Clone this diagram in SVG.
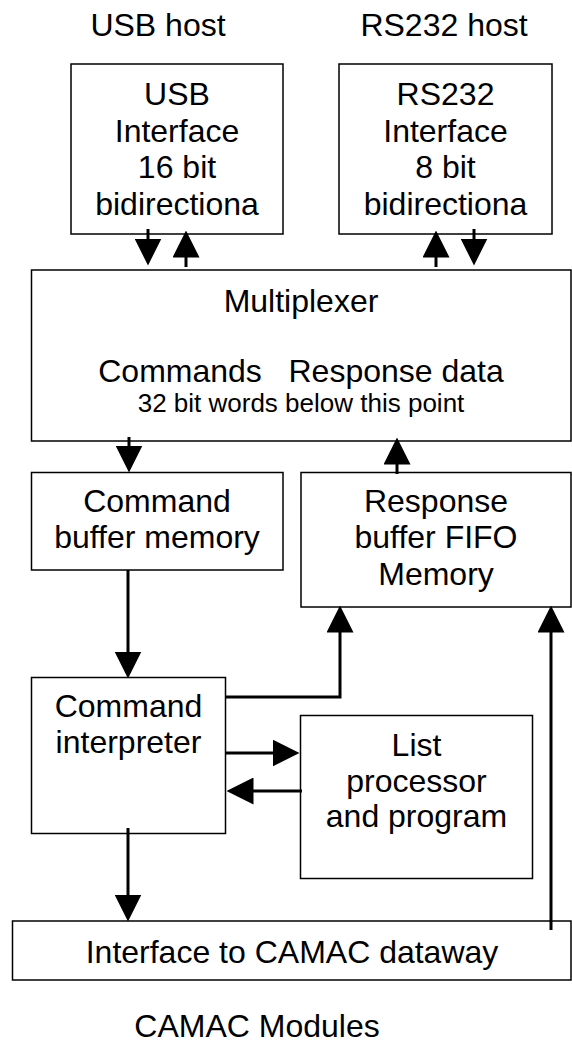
<svg xmlns="http://www.w3.org/2000/svg" width="572" height="1043" viewBox="0 0 572 1043">
<style>
  .box { fill: #ffffff; stroke: #000000; stroke-width: 1.5; }
  .t { font-family: "Liberation Sans", Arial, sans-serif; font-size: 32px; fill: #000000; text-anchor: middle; }
  .s { font-size: 26px; }
  .c { fill: none; stroke: #000000; stroke-width: 3; }
  .pre { white-space: pre; }
</style>
<defs>
  <marker id="ah" viewBox="0 0 27 27" markerWidth="27" markerHeight="27" markerUnits="userSpaceOnUse" refX="0.5" refY="13.5" orient="auto">
    <path d="M0,0 L27,13.5 L0,27 z" fill="#000000"/>
  </marker>
</defs>
<rect width="572" height="1043" fill="#ffffff"/>

<g id="labels">
  <text class="t" x="158" y="36">USB host</text>
  <text class="t" x="444" y="36">RS232 host</text>
  <text class="t" x="257" y="1037">CAMAC Modules</text>
</g>

<g id="usb">
  <rect class="box" x="71" y="64" width="212" height="170"/>
  <text class="t" x="177" y="105">USB</text>
  <text class="t" x="177" y="141.7">Interface</text>
  <text class="t" x="177" y="178.3">16 bit</text>
  <text class="t" x="177" y="215">bidirectiona</text>
</g>

<g id="rs232">
  <rect class="box" x="339" y="64" width="213" height="170"/>
  <text class="t" x="445.5" y="105">RS232</text>
  <text class="t" x="445.5" y="141.7">Interface</text>
  <text class="t" x="445.5" y="178.3">8 bit</text>
  <text class="t" x="445.5" y="215">bidirectiona</text>
</g>

<g id="multiplexer">
  <rect class="box" x="31.5" y="270" width="539.5" height="171"/>
  <text class="t" x="301" y="312">Multiplexer</text>
  <text class="t pre" x="301" y="382" xml:space="preserve">Commands   Response data</text>
  <text class="t s" x="301" y="411.7">32 bit words below this point</text>
</g>

<g id="command-buffer">
  <rect class="box" x="31.5" y="472.5" width="251.5" height="97.5"/>
  <text class="t" x="157" y="511.7">Command</text>
  <text class="t" x="157" y="548.3">buffer memory</text>
</g>

<g id="response-buffer">
  <rect class="box" x="301" y="472.5" width="270" height="134.5"/>
  <text class="t" x="436" y="511.7">Response</text>
  <text class="t" x="436" y="548.3">buffer FIFO</text>
  <text class="t" x="436" y="585">Memory</text>
</g>

<g id="command-interpreter">
  <rect class="box" x="31.5" y="677.5" width="194" height="156"/>
  <text class="t" x="128.5" y="717.3">Command</text>
  <text class="t" x="128.5" y="753.3">interpreter</text>
</g>

<g id="list-processor">
  <rect class="box" x="300.5" y="715.5" width="232" height="163"/>
  <text class="t" x="416.5" y="755.7">List</text>
  <text class="t" x="416.5" y="791.7">processor</text>
  <text class="t" x="416.5" y="827">and program</text>
</g>

<g id="camac-interface">
  <rect class="box" x="12.5" y="921" width="558.5" height="59"/>
  <text class="t" x="292" y="962.7">Interface to CAMAC dataway</text>
</g>

<g id="connectors">
  <line class="c" x1="148" y1="229" x2="148" y2="239" marker-end="url(#ah)"/>
  <line class="c" x1="186" y1="267" x2="186" y2="257" marker-end="url(#ah)"/>
  <line class="c" x1="436" y1="267" x2="436" y2="257" marker-end="url(#ah)"/>
  <line class="c" x1="474" y1="229" x2="474" y2="239" marker-end="url(#ah)"/>
  <line class="c" x1="129" y1="437" x2="129" y2="446" marker-end="url(#ah)"/>
  <line class="c" x1="397" y1="474" x2="397" y2="464" marker-end="url(#ah)"/>
  <line class="c" x1="128" y1="570" x2="128" y2="652" marker-end="url(#ah)"/>
  <polyline class="c" points="226,697 340,697 340,632" marker-end="url(#ah)"/>
  <line class="c" x1="226" y1="753" x2="273" y2="753" marker-end="url(#ah)"/>
  <line class="c" x1="302" y1="791" x2="253" y2="791" marker-end="url(#ah)"/>
  <line class="c" x1="128" y1="828" x2="128" y2="895" marker-end="url(#ah)"/>
  <line class="c" x1="551" y1="930" x2="551" y2="632" marker-end="url(#ah)"/>
</g>
</svg>
